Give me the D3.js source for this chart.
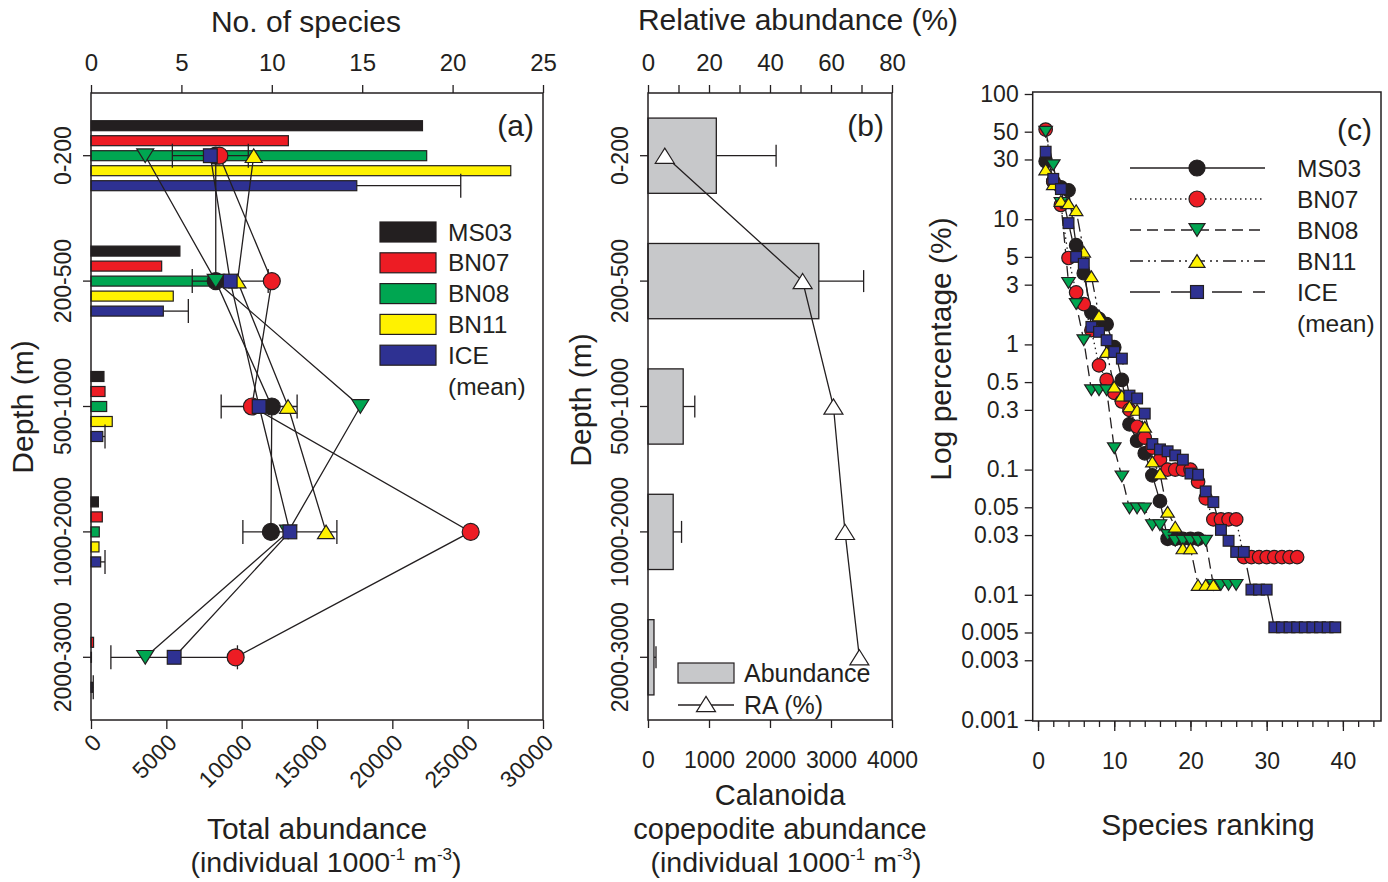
<!DOCTYPE html>
<html>
<head>
<meta charset="utf-8">
<script src="https://cdn.jsdelivr.net/npm/d3@7"></script>
<style>
body { margin: 0; background: #fff; }
svg { font-family: "Liberation Sans", Arial, sans-serif; }
</style>
</head>
<body>
<svg id="chart" width="1388" height="882"></svg>
<script>
// ---- data ----
var depths = ["0-200", "200-500", "500-1000", "1000-2000", "2000-3000"];
var stations = ["MS03", "BN07", "BN08", "BN11", "ICE"];

// (a) total abundance bars (individual 1000^-1 m^-3)
var abundMS03 = [22000, 5900, 860, 490, null];
var abundBN07 = [13100, 4690, 930, 750, 170];
var abundBN08 = [22280, 8000, 1040, 550, 30];
var abundBN11 = [27860, 5460, 1410, 530, null];
var abundICE  = [17640, 4800, 780, 640, 110];
var abundICEsd = [6900, 1660, 150, 290, 40];

// (a) no. of species points
var specMS03 = [6.9, 6.9, 10.0, 9.95, null];
var specBN07 = [7.1, 10.0, 8.9, 21.0, 8.0];
var specBN08 = [3.0, 6.9, 14.9, 10.9, 3.0];
var specBN11 = [9.0, 8.1, 10.9, 13.0, null];
var specICE  = [6.6, 7.7, 9.3, 11.0, 4.6];
var specICEsd = [2.1, 2.1, 2.1, 2.6, 3.5];

// (b) calanoida copepodite abundance and relative abundance
var calAbund = [1120, 2800, 577, 413, 98];
var calAbundSd = [980, 735, 190, 137, 33];
var calRA = [5.5, 50.7, 60.8, 64.6, 69.3];

// (c) rank-abundance, percentage by species rank
var rankMS03 = [29, 20, 18, 17, 6.2, 3.7, 1.8, 1.6, 1.45, 0.95, 0.52, 0.23, 0.17, 0.135, 0.09, 0.056, 0.028, 0.028, 0.028, 0.028, 0.028];
var rankBN07 = [52, 20, 13, 4.9, 2.6, 2.1, 1.3, 0.68, 0.52, 0.41, 0.35, 0.3, 0.22, 0.18, 0.15, 0.12, 0.1, 0.1, 0.1, 0.1, 0.08, 0.059, 0.04, 0.04, 0.04, 0.04, 0.02, 0.02, 0.02, 0.02, 0.02, 0.02, 0.02, 0.02];
var rankBN08 = [50, 27, 13.5, 3.1, 2.1, 1.08, 0.43, 0.43, 0.43, 0.148, 0.088, 0.049, 0.049, 0.049, 0.036, 0.036, 0.03, 0.027, 0.027, 0.027, 0.027, 0.027, 0.012, 0.012, 0.012, 0.012];
var rankBN11 = [25, 19, 14, 13.4, 11.8, 5.5, 3.5, 1.7, 0.87, 0.46, 0.39, 0.32, 0.3, 0.22, 0.116, 0.093, 0.046, 0.035, 0.0235, 0.0235, 0.012, 0.012, 0.012];
var rankICE  = [34.6, 21, 17.4, 9.3, 5.0, 4.4, 1.38, 1.26, 1.08, 0.87, 0.77, 0.39, 0.37, 0.28, 0.16, 0.145, 0.14, 0.13, 0.12, 0.093, 0.091, 0.067, 0.055, 0.033, 0.027, 0.022, 0.022, 0.011, 0.011, 0.011, 0.0055, 0.0055, 0.0055, 0.0055, 0.0055, 0.0055, 0.0055, 0.0055, 0.0055];

var logTicks = [100, 50, 30, 10, 5, 3, 1, 0.5, 0.3, 0.1, 0.05, 0.03, 0.01, 0.005, 0.003, 0.001];

var abund = {MS03: abundMS03, BN07: abundBN07, BN08: abundBN08, BN11: abundBN11, ICE: abundICE};
var spec = {MS03: specMS03, BN07: specBN07, BN08: specBN08, BN11: specBN11, ICE: specICE};
var ranks = {MS03: rankMS03, BN07: rankBN07, BN08: rankBN08, BN11: rankBN11, ICE: rankICE};

var colors = {MS03: "#231f20", BN07: "#ed1c24", BN08: "#00a651", BN11: "#fff200", ICE: "#2e3192"};
var shapes = {MS03: "circle", BN07: "circle", BN08: "down", BN11: "up", ICE: "square"};
var dashes = {MS03: null, BN07: "1.5,3.5", BN08: "11,6", BN11: "13,5,2,4,2,5", ICE: "30,11"};
var ink = "#231f20";

var svg = d3.select("#chart");

function marker(g, shape, x, y, s, fill) {
    if (shape == "circle") {
        g.append("circle").attr("cx", x).attr("cy", y).attr("r", s / 2)
            .attr("fill", fill).attr("stroke", ink).attr("stroke-width", 1.2);
    } else if (shape == "square") {
        var a = s * 0.86;
        g.append("rect").attr("x", x - a / 2).attr("y", y - a / 2).attr("width", a).attr("height", a)
            .attr("fill", fill).attr("stroke", ink).attr("stroke-width", 1.2);
    } else {
        var h = s * 0.8, w = s / 2;
        var d = shape == "up"
            ? "M" + x + "," + (y - h / 2) + "L" + (x + w) + "," + (y + h / 2) + "L" + (x - w) + "," + (y + h / 2) + "Z"
            : "M" + x + "," + (y + h / 2) + "L" + (x + w) + "," + (y - h / 2) + "L" + (x - w) + "," + (y - h / 2) + "Z";
        g.append("path").attr("d", d).attr("fill", fill).attr("stroke", ink).attr("stroke-width", 1.2)
            .attr("stroke-linejoin", "miter");
    }
}

function styleAxis(g, size) {
    g.select(".domain").remove();
    g.selectAll(".tick line").attr("stroke", ink).attr("stroke-width", 1.3);
    g.selectAll(".tick text").attr("fill", ink).style("font-size", size + "px");
}

function frame(x0, x1, y0, y1) {
    svg.append("rect").attr("x", x0).attr("y", y0).attr("width", x1 - x0).attr("height", y1 - y0)
        .attr("fill", "none").attr("stroke", ink).attr("stroke-width", 1.5);
}

function rotLabel(x, y, txt, size) {
    svg.append("text").attr("transform", "translate(" + x + "," + y + ") rotate(-90)")
        .attr("text-anchor", "middle").attr("dominant-baseline", "central")
        .style("font-size", size + "px").attr("fill", ink).text(txt);
}

function unitLabel(x, y) {
    var t = svg.append("text").attr("x", x).attr("y", y).attr("text-anchor", "middle")
        .style("font-size", "28.5px").attr("fill", ink);
    t.append("tspan").text("(individual 1000");
    t.append("tspan").attr("dy", -12).style("font-size", "17px").text("-1");
    t.append("tspan").attr("dy", 12).text(" m");
    t.append("tspan").attr("dy", -12).style("font-size", "17px").text("-3");
    t.append("tspan").attr("dy", 12).text(")");
}

// ================= panel (a) =================
var ya = d3.scaleBand().domain(depths).range([93, 720]);
var xAb = d3.scaleLinear().domain([0, 30000]).range([91, 543]);
var xSp = d3.scaleLinear().domain([0, 25]).range([91, 543]);
var sub = d3.scalePoint().domain(stations).range([-30, 30]);
var ca = function(d) { return ya(d) + ya.bandwidth() / 2; };

var ga = svg.append("g");
// bars
stations.forEach(function(s) {
    abund[s].forEach(function(v, i) {
        if (v == null) return;
        var yc = ca(depths[i]) + sub(s);
        ga.append("rect").attr("x", xAb(0)).attr("y", yc - 5)
            .attr("width", xAb(v) - xAb(0)).attr("height", 10)
            .attr("fill", colors[s]).attr("stroke", ink).attr("stroke-width", 1.2);
    });
});
// bar error bars (ICE)
abundICE.forEach(function(v, i) {
    var yc = ca(depths[i]) + sub("ICE");
    var xe = xAb(v + abundICEsd[i]);
    ga.append("line").attr("x1", xAb(v)).attr("x2", xe).attr("y1", yc).attr("y2", yc)
        .attr("stroke", ink).attr("stroke-width", 1.3);
    ga.append("line").attr("x1", xe).attr("x2", xe).attr("y1", yc - 12).attr("y2", yc + 12)
        .attr("stroke", ink).attr("stroke-width", 1.3);
});
// species error bars (ICE)
specICE.forEach(function(v, i) {
    var yc = ca(depths[i]);
    var x1 = xSp(v - specICEsd[i]), x2 = xSp(v + specICEsd[i]);
    ga.append("line").attr("x1", x1).attr("x2", x2).attr("y1", yc).attr("y2", yc)
        .attr("stroke", ink).attr("stroke-width", 1.3);
    [x1, x2].forEach(function(xx) {
        ga.append("line").attr("x1", xx).attr("x2", xx).attr("y1", yc - 12).attr("y2", yc + 12)
            .attr("stroke", ink).attr("stroke-width", 1.3);
    });
});
// species lines
var lineA = d3.line()
    .defined(function(d) { return d.v != null; })
    .x(function(d) { return xSp(d.v); })
    .y(function(d) { return ca(d.depth); });
stations.forEach(function(s) {
    var pts = spec[s].map(function(v, i) { return {v: v, depth: depths[i]}; });
    ga.append("path").attr("d", lineA(pts)).attr("fill", "none")
        .attr("stroke", ink).attr("stroke-width", 1.3);
});
stations.forEach(function(s) {
    spec[s].forEach(function(v, i) {
        if (v == null) return;
        marker(ga, shapes[s], xSp(v), ca(depths[i]), s == "ICE" ? 16 : 17, colors[s]);
    });
});
frame(91, 543, 93, 720);

// axes (a)
var axTopA = svg.append("g").attr("transform", "translate(0,93)")
    .call(d3.axisTop(xSp).tickValues([0, 5, 10, 15, 20, 25]).tickSize(8).tickPadding(14));
styleAxis(axTopA, 24);
var axBotA = svg.append("g").attr("transform", "translate(0,720)")
    .call(d3.axisBottom(xAb).tickValues([0, 5000, 10000, 15000, 20000, 25000, 30000]).tickSize(9).tickFormat(d3.format("d")));
styleAxis(axBotA, 23);
axBotA.selectAll(".tick text").attr("transform", "rotate(-45)").attr("text-anchor", "end")
    .attr("x", -9).attr("y", 17).attr("dy", "0.35em");
var axLeftA = svg.append("g").attr("transform", "translate(91,0)")
    .call(d3.axisLeft(ya).tickSize(8).tickFormat(""));
styleAxis(axLeftA, 23);
depths.forEach(function(d) { rotLabel(63, ca(d), d, 23); });

svg.append("text").attr("x", 306).attr("y", 32).attr("text-anchor", "middle")
    .style("font-size", "30px").attr("fill", ink).text("No. of species");
rotLabel(22, 407, "Depth (m)", 30);
svg.append("text").attr("x", 317).attr("y", 839).attr("text-anchor", "middle")
    .style("font-size", "30px").attr("fill", ink).text("Total abundance");
unitLabel(326, 872);
svg.append("text").attr("x", 534).attr("y", 136).attr("text-anchor", "end")
    .style("font-size", "30px").attr("fill", ink).text("(a)");

// legend (a)
var legA = svg.append("g");
stations.forEach(function(s, i) {
    var yy = 232 + i * 30.8;
    legA.append("rect").attr("x", 380).attr("y", yy - 10).attr("width", 56).attr("height", 20)
        .attr("fill", colors[s]).attr("stroke", ink).attr("stroke-width", 1.2);
    legA.append("text").attr("x", 448).attr("y", yy).attr("dominant-baseline", "central")
        .style("font-size", "24.5px").attr("fill", ink).text(s);
});
legA.append("text").attr("x", 448).attr("y", 232 + 5 * 30.8).attr("dominant-baseline", "central")
    .style("font-size", "24.5px").attr("fill", ink).text("(mean)");

// ================= panel (b) =================
var xB = d3.scaleLinear().domain([0, 4000]).range([648, 892]);
var xRA = d3.scaleLinear().domain([0, 80]).range([648, 892]);
var yb = d3.scaleBand().domain(depths).range([93, 720]).paddingInner(0.4).paddingOuter(0.2);
var cb = function(d) { return yb(d) + yb.bandwidth() / 2; };
var gb = svg.append("g");
calAbund.forEach(function(v, i) {
    var yy = yb(depths[i]);
    gb.append("rect").attr("x", xB(0)).attr("y", yy).attr("width", xB(v) - xB(0)).attr("height", yb.bandwidth())
        .attr("fill", "#c7c8ca").attr("stroke", ink).attr("stroke-width", 1.3);
    var yc = cb(depths[i]), xe = xB(v + calAbundSd[i]);
    gb.append("line").attr("x1", xB(v)).attr("x2", xe).attr("y1", yc).attr("y2", yc)
        .attr("stroke", ink).attr("stroke-width", 1.3);
    gb.append("line").attr("x1", xe).attr("x2", xe).attr("y1", yc - 11).attr("y2", yc + 11)
        .attr("stroke", ink).attr("stroke-width", 1.3);
});
var lineB = d3.line().x(function(d) { return xRA(d); }).y(function(d, i) { return cb(depths[i]); });
gb.append("path").attr("d", lineB(calRA)).attr("fill", "none").attr("stroke", ink).attr("stroke-width", 1.3);
calRA.forEach(function(v, i) { marker(gb, "up", xRA(v), cb(depths[i]), 19, "#fff"); });
frame(648, 892, 93, 720);

var axTopB = svg.append("g").attr("transform", "translate(0,93)")
    .call(d3.axisTop(xRA).tickValues(d3.range(0, 81, 10)).tickSize(8).tickPadding(14)
        .tickFormat(function(d) { return d % 20 == 0 ? d : ""; }));
styleAxis(axTopB, 24);
var axBotB = svg.append("g").attr("transform", "translate(0,720)")
    .call(d3.axisBottom(xB).tickValues([0, 1000, 2000, 3000, 4000]).tickSize(8).tickPadding(24).tickFormat(d3.format("d")));
styleAxis(axBotB, 23);
var axLeftB = svg.append("g").attr("transform", "translate(648,0)")
    .call(d3.axisLeft(yb).tickSize(8).tickFormat(""));
styleAxis(axLeftB, 23);
depths.forEach(function(d) { rotLabel(620, cb(d), d, 23); });

svg.append("text").attr("x", 798).attr("y", 30).attr("text-anchor", "middle")
    .style("font-size", "30px").attr("fill", ink).text("Relative abundance (%)");
rotLabel(580, 400, "Depth (m)", 30);
svg.append("text").attr("x", 780).attr("y", 805).attr("text-anchor", "middle")
    .style("font-size", "29px").attr("fill", ink).text("Calanoida");
svg.append("text").attr("x", 780).attr("y", 839).attr("text-anchor", "middle")
    .style("font-size", "29px").attr("fill", ink).text("copepodite abundance");
unitLabel(786, 872);
svg.append("text").attr("x", 884).attr("y", 136).attr("text-anchor", "end")
    .style("font-size", "30px").attr("fill", ink).text("(b)");

// legend (b)
svg.append("rect").attr("x", 678).attr("y", 663).attr("width", 56).attr("height", 20)
    .attr("fill", "#c7c8ca").attr("stroke", ink).attr("stroke-width", 1.2);
svg.append("text").attr("x", 744).attr("y", 673).attr("dominant-baseline", "central")
    .style("font-size", "25px").attr("fill", ink).text("Abundance");
svg.append("line").attr("x1", 678).attr("x2", 734).attr("y1", 705).attr("y2", 705)
    .attr("stroke", ink).attr("stroke-width", 1.3);
marker(svg, "up", 706, 704, 19, "#fff");
svg.append("text").attr("x", 744).attr("y", 705).attr("dominant-baseline", "central")
    .style("font-size", "25px").attr("fill", ink).text("RA (%)");

// ================= panel (c) =================
var xC = d3.scaleLinear().domain([-0.7, 45]).range([1032.7, 1381]);
var yC = d3.scaleLog().domain([0.001, 100]).range([720, 94]);
var gc = svg.append("g");
var lineC = d3.line().x(function(d, i) { return xC(i + 1); }).y(function(d) { return yC(d); });
stations.forEach(function(s) {
    gc.append("path").attr("d", lineC(ranks[s])).attr("fill", "none")
        .attr("stroke", ink).attr("stroke-width", 1.3).attr("stroke-dasharray", dashes[s]);
});
stations.forEach(function(s) {
    ranks[s].forEach(function(v, i) {
        marker(gc, shapes[s], xC(i + 1), yC(v), s == "ICE" ? 12.5 : 13.5, colors[s]);
    });
});
frame(1032.7, 1381, 92, 721);

var axBotC = svg.append("g").attr("transform", "translate(0,721)")
    .call(d3.axisBottom(xC).tickValues(d3.range(0, 45, 2)).tickSize(6).tickFormat(""));
styleAxis(axBotC, 23);
var axBotC2 = svg.append("g").attr("transform", "translate(0,721)")
    .call(d3.axisBottom(xC).tickValues([0, 10, 20, 30, 40]).tickSize(10).tickPadding(22));
styleAxis(axBotC2, 23);
var axLeftC = svg.append("g").attr("transform", "translate(1032.7,0)")
    .call(d3.axisLeft(yC).tickValues(logTicks).tickSize(8).tickPadding(6)
        .tickFormat(function(d) { return String(d); }));
styleAxis(axLeftC, 23);

rotLabel(940, 349, "Log percentage (%)", 30);
svg.append("text").attr("x", 1208).attr("y", 835).attr("text-anchor", "middle")
    .style("font-size", "30px").attr("fill", ink).text("Species ranking");
svg.append("text").attr("x", 1372).attr("y", 140).attr("text-anchor", "end")
    .style("font-size", "30px").attr("fill", ink).text("(c)");

// legend (c)
var legC = svg.append("g");
stations.forEach(function(s, i) {
    var yy = 168 + i * 31;
    legC.append("line").attr("x1", 1130).attr("x2", 1265).attr("y1", yy).attr("y2", yy)
        .attr("stroke", ink).attr("stroke-width", 1.3).attr("stroke-dasharray", dashes[s]);
    marker(legC, shapes[s], 1197, yy, s == "ICE" ? 15 : 16, colors[s]);
    legC.append("text").attr("x", 1297).attr("y", yy).attr("dominant-baseline", "central")
        .style("font-size", "24.5px").attr("fill", ink).text(s);
});
legC.append("text").attr("x", 1297).attr("y", 168 + 5 * 31).attr("dominant-baseline", "central")
    .style("font-size", "24.5px").attr("fill", ink).text("(mean)");
</script>
</body>
</html>
